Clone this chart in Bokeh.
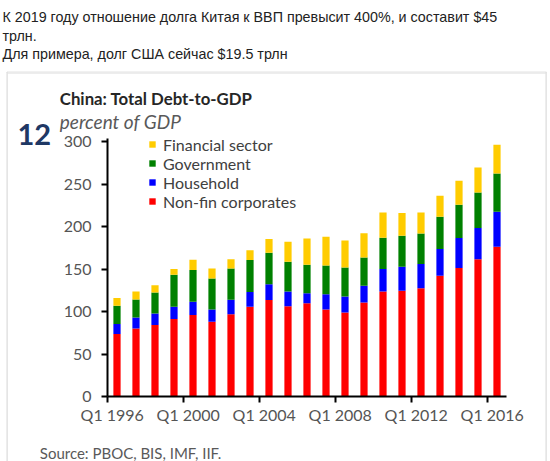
from bokeh.plotting import figure
from bokeh.models import (ColumnDataSource, Range1d, FixedTicker, Label, Legend,
                          LegendItem)
from bokeh.embed import file_html
from bokeh.resources import INLINE

# ---------------- data (percent of GDP) ----------------
years = [1996, 1997, 1998, 1999, 2000, 2001, 2002, 2003, 2004, 2005, 2006,
         2007, 2008, 2009, 2010, 2011, 2012, 2013, 2014, 2015, 2016]
nonfin_corporates = [73.4, 80.0, 84.0, 91.1, 95.8, 87.9, 96.9, 105.5, 113.4, 106.2, 109.8,
                     102.4, 98.8, 110.6, 123.5, 124.4, 127.5, 142.0, 151.1, 161.6, 176.1]
household = [11.8, 12.9, 13.6, 14.4, 15.6, 14.5, 16.9, 17.3, 18.8, 17.3, 11.8,
             18.0, 18.8, 19.6, 26.4, 28.2, 28.3, 31.4, 35.3, 36.5, 41.2]
government = [21.5, 21.2, 24.8, 37.7, 37.3, 36.4, 36.8, 37.7, 36.8, 35.0, 33.4,
              33.7, 34.2, 33.3, 36.8, 36.4, 36.0, 38.0, 39.1, 41.9, 45.1]
financial_sector = [9.1, 9.4, 8.6, 6.7, 12.1, 11.8, 11.0, 11.7, 16.2, 23.5, 30.9,
                    33.8, 31.7, 28.7, 29.8, 26.8, 24.7, 24.7, 28.3, 29.4, 33.7]
series_names = ["Non-fin corporates", "Household", "Government", "Financial sector"]
series_colors = ["#ff0000", "#0000ff", "#008000", "#ffcc00"]
tick_years = [1996, 2000, 2004, 2008, 2012, 2016]
y_ticks = [0, 50, 100, 150, 200, 250, 300]

header_lines = ["К 2019 году отношение долга Китая к ВВП превысит 400%, и составит $45",
                "трлн.",
                "Для примера, долг США сейчас $19.5 трлн"]
title_text = "China: Total Debt-to-GDP"
subtitle_text = "percent of GDP"
chart_number = "12"
source_text = "Source: PBOC, BIS, IMF, IIF."

# ---------------- layout geometry ----------------
W, H = 550, 461
FL, FW = 107, 399          # frame left / width (px)
FT, FH = 132, 264          # frame top / height (px)
X0, X1 = 1996, 2017
PX_PER_UNIT = 0.85
Y0, Y1 = 0, FH / PX_PER_UNIT
Y_AXIS_TOP = 303.5

FONT = "Lato"

source = ColumnDataSource(dict(
    x=[yr + 0.5 for yr in years],
    nonfin=nonfin_corporates, household=household,
    gov=government, fin=financial_sector,
))

p = figure(width=W, height=H, output_backend="svg", toolbar_location=None,
           x_range=Range1d(X0, X1), y_range=Range1d(Y0, Y1),
           min_border_left=FL, min_border_right=W - FL - FW,
           min_border_top=FT, min_border_bottom=H - FT - FH)
p.outline_line_color = None
p.xgrid.visible = False
p.ygrid.visible = False
p.background_fill_color = "white"
p.border_fill_color = "white"

renderers = p.vbar_stack(["nonfin", "household", "gov", "fin"], x="x", width=0.38,
                         color=series_colors, line_color=None, source=source)

# x axis: tick marks at year boundaries (minor), labels near bars (major)
xax = p.xaxis[0]
label_pos = [yr + 0.25 for yr in tick_years]
xax.ticker = FixedTicker(ticks=label_pos, minor_ticks=tick_years)
xax.major_label_overrides = {lp: f"Q1 {yr}" for lp, yr in zip(label_pos, tick_years)}
xax.major_tick_out = 0
xax.major_tick_in = 0
xax.major_tick_line_color = None
xax.minor_tick_out = 6
xax.minor_tick_in = 0
xax.minor_tick_line_width = 2
xax.minor_tick_line_color = "black"
xax.axis_line_width = 2
xax.axis_line_color = "black"
xax.major_label_text_font = FONT
xax.major_label_text_font_size = "16px"
xax.major_label_text_color = "#555555"
xax.major_label_standoff = 2

yax = p.yaxis[0]
yax.ticker = FixedTicker(ticks=y_ticks, minor_ticks=[])
yax.bounds = (0, Y_AXIS_TOP)
yax.major_tick_out = 6
yax.major_tick_in = 0
yax.major_tick_line_width = 2
yax.major_tick_line_color = "black"
yax.minor_tick_line_color = None
yax.axis_line_width = 2
yax.axis_line_color = "black"
yax.major_label_text_font = FONT
yax.major_label_text_font_size = "16px"
yax.major_label_text_color = "#555555"
yax.major_label_standoff = 10

# legend (top item first)
items = [LegendItem(label=series_names[i], renderers=[renderers[i]]) for i in (3, 2, 1, 0)]
legend = Legend(items=items, location=(41, 185.5), orientation="vertical",
                glyph_width=8, glyph_height=8, label_standoff=7, spacing=0,
                label_height=18, padding=0, margin=0,
                label_text_font=FONT, label_text_font_size="16px",
                label_text_line_height=1.0,
                label_text_color="#404040",
                border_line_color=None, background_fill_alpha=0)
p.add_layout(legend, "center")


def canvas_label(side, x, y, text, **kw):
    """Text placed in canvas pixels; kept in a side panel so it is not clipped."""
    kw.setdefault("text_baseline", "alphabetic")
    p.add_layout(Label(x=x, y=y, x_units="canvas", y_units="canvas", text=text, **kw), side)


# card border: thin bordered boxes (top edge, left edge, right edge)
edge = dict(text_font_size="1px", anchor="top_left", border_line_color="#e2e2e2",
            border_line_width=1, background_fill_color=None, text_baseline="top")
canvas_label("above", 6.5, 71.5, " ", padding=dict(left=0, right=539, top=0, bottom=0), **edge)
canvas_label("left", 6.5, 71.5, " ", padding=dict(left=0, right=0, top=0, bottom=400), **edge)
canvas_label("right", 545.5, 71.5, " ", padding=dict(left=0, right=0, top=0, bottom=400), **edge)

# header text
for i, line in enumerate(header_lines):
    canvas_label("above", 2, 16.7 + 18.4 * i, line, text_font="Liberation Sans",
                 text_font_size="14.3px", text_color="#222222")

canvas_label("above", 59.3, 98.3, title_text, text_font=FONT, text_font_style="bold",
             text_font_size="16.8px", text_color="#262626")
canvas_label("above", 59.3, 121, subtitle_text, text_font=FONT, text_font_style="italic",
             text_font_size="19px", text_color="#595959")
canvas_label("left", 17, 134, chart_number, text_font=FONT, text_font_style="bold",
             text_font_size="29px", text_color="#1f3864")
canvas_label("below", 39.3, 452.3, source_text, text_font=FONT, text_font_size="15px",
             text_color="#595959")

open("out.html", "w").write(file_html(p, INLINE))
